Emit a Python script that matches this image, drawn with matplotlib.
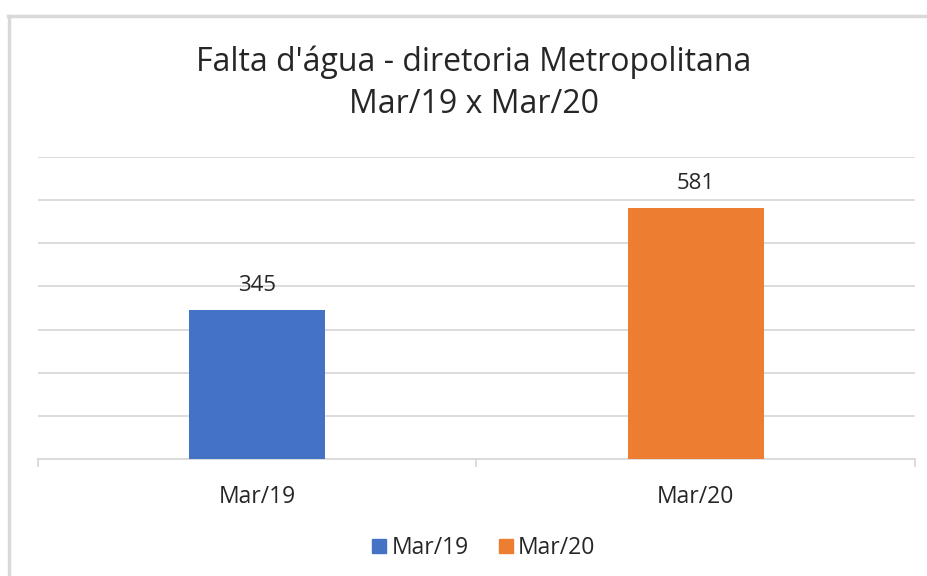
import matplotlib
matplotlib.use("Agg")
import matplotlib.pyplot as plt
from matplotlib.patches import Rectangle
from matplotlib.lines import Line2D
from matplotlib.ticker import MultipleLocator, FixedLocator

categories = ["Mar/19", "Mar/20"]
values = [345, 581]
colors = ["#4472C4", "#ED7D31"]
title = "Falta d'água - diretoria Metropolitana\nMar/19 x Mar/20"

plt.rcParams['font.family'] = ['Open Sans', 'DejaVu Sans']
txt = "#262626"
grid = "#D9D9D9"

fig = plt.figure(figsize=(9.28, 5.76), dpi=100)
# chart border (only left and top edges show)
fig.lines.append(Line2D([9/928, 9/928], [0, 1 - 16/576], transform=fig.transFigure,
                        color=grid, linewidth=2.5))
fig.lines.append(Line2D([8/928, 1.05], [1 - 16/576, 1 - 16/576], transform=fig.transFigure,
                        color=grid, linewidth=2.5))

ax = fig.add_axes([38/928, 117/576, 877/928, 302/576])
x = range(len(categories))
bars = ax.bar(x, values, width=0.31, color=colors, zorder=3)
for b, v in zip(bars, values):
    ax.annotate(str(v), (b.get_x() + b.get_width()/2, v), xytext=(0, 18),
                textcoords="offset points", ha="center", va="center",
                fontsize=16, color=txt)

ax.set_xlim(-0.5, 1.5)
ax.set_ylim(0, 700)
ax.yaxis.set_major_locator(MultipleLocator(100))
ax.grid(axis="y", color=grid, linewidth=1.3, zorder=0)
ax.set_yticklabels([])
ax.tick_params(axis="y", length=0)
for s in ["top", "right", "left"]:
    ax.spines[s].set_visible(False)
ax.spines["bottom"].set_color(grid)
ax.spines["bottom"].set_linewidth(1.3)
ax.set_xticks(list(x))
ax.set_xticklabels(categories, fontsize=16.5, color=txt)
ax.tick_params(axis="x", which="major", length=0, pad=19)
ax.xaxis.set_minor_locator(FixedLocator([-0.5, 0.5, 1.5]))
ax.tick_params(axis="x", which="minor", length=6, width=1.3, color=grid)

fig.text(474/928, 1 - 83/576, title, ha="center", va="center",
         fontsize=23, color=txt, linespacing=1.35)

handles = [Rectangle((0, 0), 1, 1, color=c) for c in colors]
fig.legend(handles, categories, loc="center", bbox_to_anchor=(484/928, 1 - 548/576),
           ncol=2, frameon=False, fontsize=16.5, handlelength=0.6, handleheight=0.6,
           handletextpad=0.25, columnspacing=1.3, labelcolor=txt)

fig.savefig("out.png", dpi=100)
